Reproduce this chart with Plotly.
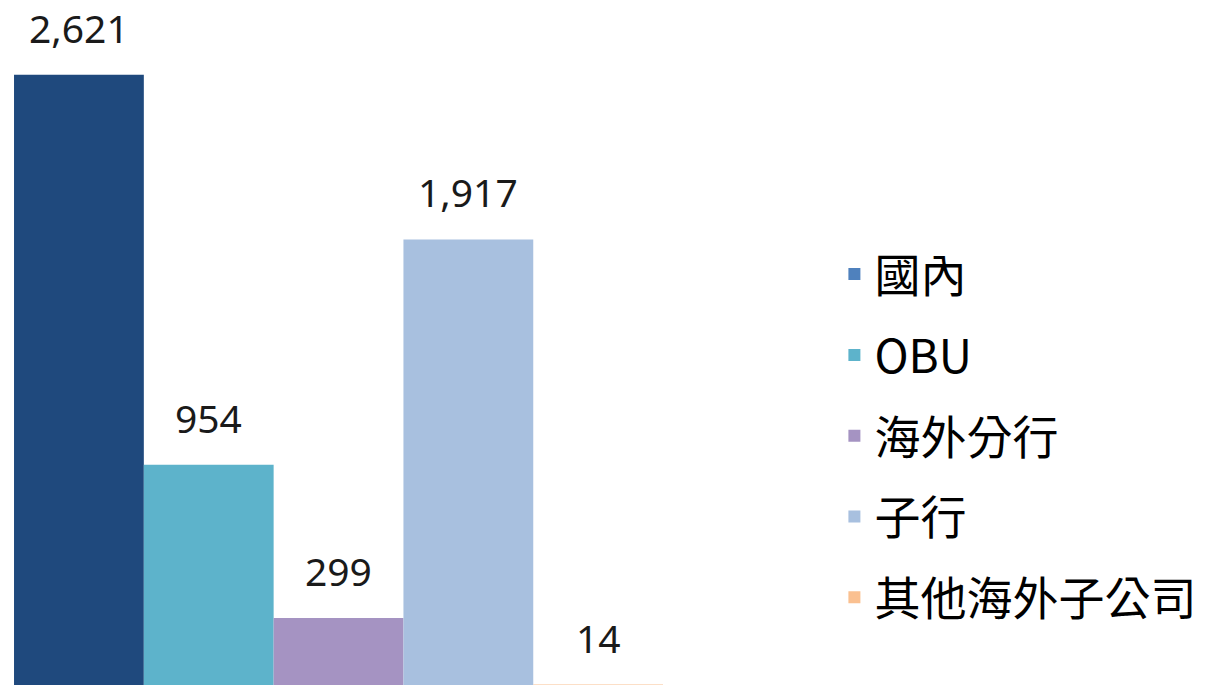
import plotly.graph_objects as go

categories = ["國內", "OBU", "海外分行", "子行", "其他海外子公司"]
values = [2621, 954, 299, 1917, 14]
labels = ["2,621", "954", "299", "1,917", "14"]

bar_colors = ["#1F497D", "#5DB3CB", "#A593C2", "#A8C0DF", "#FAC090"]
legend_colors = ["#4F81BD", "#5DB3CB", "#A593C2", "#A8C0DF", "#FAC090"]

fig = go.Figure()
for i, (cat, val) in enumerate(zip(categories, values)):
    fig.add_trace(go.Bar(
        x=[i], y=[val], width=1, name=cat,
        marker=dict(color=bar_colors[i], line=dict(width=0)),
        showlegend=False, hoverinfo="skip",
    ))
for i, cat in enumerate(categories):
    fig.add_trace(go.Bar(
        x=[None], y=[None], name=cat, legendgroup=cat,
        marker=dict(color=legend_colors[i], line=dict(width=0)),
        showlegend=True,
    ))
for i, (val, lab) in enumerate(zip(values, labels)):
    fig.add_annotation(
        x=i, y=val, text=lab, showarrow=False,
        xanchor="center", yanchor="bottom", yshift=19,
        font=dict(family="Noto Sans, sans-serif", size=39, color="#1a1a1a"),
    )

fig.update_layout(
    width=1209, height=685,
    margin=dict(l=0, r=409, t=0, b=0, autoexpand=False),
    paper_bgcolor="white", plot_bgcolor="white",
    barmode="overlay",
    xaxis=dict(range=[-0.608, 5.555], visible=False, fixedrange=True),
    yaxis=dict(range=[12, 2941], visible=False, fixedrange=True),
    showlegend=True,
    legend=dict(
        x=1.043, xanchor="left", y=0.653, yanchor="top",
        font=dict(family="Noto Sans CJK TC, sans-serif", size=46, color="#000000"),
        tracegroupgap=18, traceorder="grouped",
        bgcolor="rgba(0,0,0,0)", itemwidth=30,
    ),
)

fig.write_html("out.html",
               config={"displayModeBar": False},
               post_script="document.body.style.margin='0';document.body.style.overflow='hidden';")
